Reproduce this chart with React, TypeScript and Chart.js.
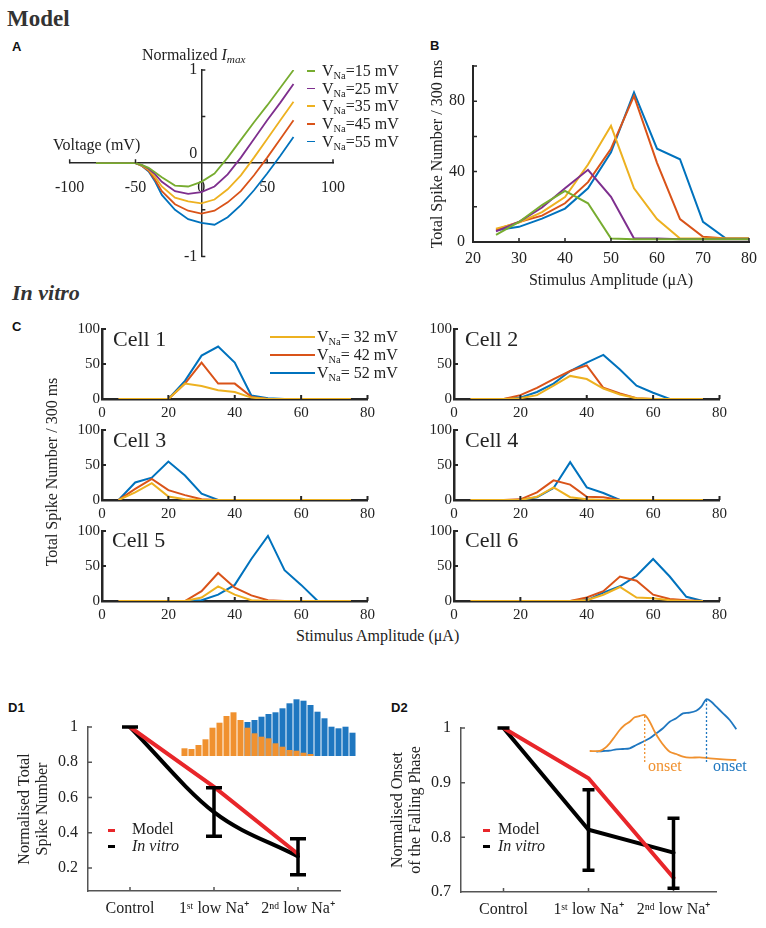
import React, { useEffect, useRef } from 'react';
import { Chart, registerables } from 'chart.js';

Chart.register(...registerables);

const SERIF = '"Liberation Serif", "Times New Roman", Times, serif';
const SANS = '"Liberation Sans", Arial, Helvetica, sans-serif';
const INK = '#222222';
const AXIS = '#262626';
Chart.defaults.font.family = SERIF;
Chart.defaults.font.size = 16;
Chart.defaults.color = INK;

const C_GREEN = '#77ac30';
const C_PURPLE = '#7e2f8e';
const C_YELLOW = '#edb120';
const C_RED = '#d95319';
const C_BLUE = '#0072bd';

// ---------------- Panel A (model I-V curves)
const naLevelsA = [15, 25, 35, 45, 55];
const voltageA = [-80, -50, -45, -40, -35, -30, -20, -10, 0, 10, 20, 30, 40, 50, 60, 70];
const imaxNa15 = [0, 0, -0.02, -0.05, -0.1, -0.15, -0.24, -0.25, -0.2, -0.11, 0.06, 0.25, 0.44, 0.62, 0.81, 1.0];
const imaxNa25 = [0, 0, -0.02, -0.06, -0.12, -0.2, -0.3, -0.33, -0.31, -0.25, -0.12, 0.06, 0.26, 0.46, 0.65, 0.85];
const imaxNa35 = [0, 0, -0.025, -0.07, -0.15, -0.25, -0.37, -0.41, -0.43, -0.39, -0.28, -0.13, 0.06, 0.26, 0.46, 0.66];
const imaxNa45 = [0, 0, -0.03, -0.08, -0.18, -0.3, -0.44, -0.51, -0.54, -0.51, -0.42, -0.3, -0.13, 0.06, 0.26, 0.46];
const imaxNa55 = [0, 0, -0.03, -0.09, -0.2, -0.34, -0.5, -0.6, -0.64, -0.66, -0.58, -0.45, -0.29, -0.11, 0.08, 0.28];

// ---------------- Panel B (model spikes vs stimulus)
const stimulusB = [25, 30, 35, 40, 45, 50, 55, 60, 65, 70, 75, 80];
const spikesNa15 = [4, 11.4, 21, 29, 22, 2, 1.5, 1.5, 1.5, 1.5, 1.5, 1.5];
const spikesNa25 = [6, 11.4, 19.6, 30.5, 41, 25.7, 2, 2, 1.5, 1.5, 1.5, 1.5];
const spikesNa35 = [7.6, 11, 17, 25.5, 44, 66, 30.5, 13, 2, 2, 2, 2];
const spikesNa45 = [7, 11.4, 15, 22, 34, 53, 83, 45, 13, 3, 2, 2];
const spikesNa55 = [6.7, 8.6, 13.3, 19, 30.5, 51, 85, 53, 47, 11.4, 2, 2];

// ---------------- Panel C (in vitro cells)
const naLevelsC = [32, 42, 52];
const stimulusC = [5, 10, 15, 20, 25, 30, 35, 40, 45, 50, 55, 60, 65, 70, 75];
const cell1Na32 = [0, 0, 0, 0, 22, 18.5, 12.5, 10, 2, 0, 0, 0, 0, 0, 0];
const cell1Na42 = [0, 0, 0, 0, 22, 52, 22, 22, 3, 0, 0, 0, 0, 0, 0];
const cell1Na52 = [0, 0, 0, 0, 26, 62, 75, 52, 5, 1, 0, 0, 0, 0, 0];
const cell2Na32 = [0, 0, 0, 1, 5.5, 19, 33, 28.5, 15, 6.5, 1, 0, 0, 0, 0];
const cell2Na42 = [0, 0, 0, 5.5, 16, 28.5, 40, 48, 16, 8, 1, 0, 0, 0, 0];
const cell2Na52 = [0, 0, 0, 2, 10, 22, 40, 52, 63, 42, 19, 9, 0, 0, 0];
const cell3Na32 = [0, 11, 24, 5, 1, 0, 0, 0, 0, 0, 0, 0, 0, 0, 0];
const cell3Na42 = [0, 16, 30, 14, 7, 1, 0, 0, 0, 0, 0, 0, 0, 0, 0];
const cell3Na52 = [0, 25, 32, 55, 35, 9, 0, 0, 0, 0, 0, 0, 0, 0, 0];
const cell4Na32 = [0, 0, 0, 0, 4.5, 18, 4, 1, 0, 0, 0, 0, 0, 0, 0];
const cell4Na42 = [0, 0, 0, 1, 11, 28, 22, 4.5, 4, 0, 0, 0, 0, 0, 0];
const cell4Na52 = [0, 0, 0, 0, 4, 17, 54, 18, 10, 0, 0, 0, 0, 0, 0];
const cell5Na32 = [0, 0, 0, 0, 0, 5, 21, 9, 1, 0, 0, 0, 0, 0, 0];
const cell5Na42 = [0, 0, 0, 0, 0, 14, 40, 19, 8, 1, 0, 0, 0, 0, 0];
const cell5Na52 = [0, 0, 0, 0, 0, 1, 9, 23, 60, 93, 44, 23, 0, 0, 0];
const cell6Na32 = [0, 0, 0, 0, 0, 0, 0, 1, 9, 20, 5, 4, 1, 0, 0];
const cell6Na42 = [0, 0, 0, 0, 0, 0, 0, 5, 14, 35, 29, 9, 3, 1, 0];
const cell6Na52 = [0, 0, 0, 0, 0, 0, 0, 1, 12, 21, 36, 60, 35, 6, 0];

// ---------------- Panel D
const conditionLabels = ['Control', '1ˢᵗ low Na⁺', '2ⁿᵈ low Na⁺'];
const d1Model = [1, 0.66, 0.28];
const d1InVitro = [1, 0.517, 0.266];
const d1ErrLow = [1, 0.38, 0.162];
const d1ErrHigh = [1, 0.655, 0.367];
const d1Ticks = [0.2, 0.4, 0.6, 0.8, 1];
const d2Model = [1, 0.908, 0.726];
const d2InVitro = [1, 0.814, 0.772];
const d2ErrLow = [1, 0.74, 0.707];
const d2ErrHigh = [1, 0.887, 0.835];
const d2Ticks = [0.7, 0.8, 0.9, 1];

// D1 inset histogram
const histBins = [1, 2, 3, 4, 5, 6, 7, 8, 9, 10, 11, 12, 13, 14, 15, 16, 17, 18, 19, 20, 21, 22, 23, 24, 25];
const histOrange = [7.7, 7, 11, 16.7, 28.3, 33.3, 40, 43.7, 36, 28.3, 22.7, 19.3, 17.7, 12.7, 9.3, 6, 5.3, 3.3, 2, 0, 0, 0, 0, 0, 0];
const histBlue = [0, 0, 0, 0, 0, 0, 0, 0, 0, 34, 36, 39.3, 42, 43.7, 47.7, 52.7, 56.7, 55.3, 51, 44.3, 37.7, 29.3, 27.7, 29.3, 23.3];

// D2 inset traces
const traceOrangeX = [0.7, 10.7, 15.7, 20.7, 25.7, 30.7, 35.7, 40.7, 45.7, 50.7, 55.7, 60.7, 65.7, 70.7, 75.7, 80.7, 87.3, 94, 100.7, 110.7, 120.7, 134, 147.3];
const traceOrangeY = [9, 9, 11.7, 16.7, 23.3, 30, 35, 38.3, 42.7, 44, 45, 38.3, 28.3, 20, 13.3, 8.3, 6, 3.3, 2.3, 2.7, 1.7, 0.7, 0];
const traceBlueX = [7.3, 14, 20.7, 27.3, 34, 40.7, 47.3, 54, 60.7, 67.3, 74, 80.7, 87.3, 94, 100.7, 107.3, 112.3, 117.3, 122.3, 127.3, 134, 140.7, 147.3];
const traceBlueY = [8.3, 9, 9.3, 10.7, 11, 11.7, 15, 18.3, 21.7, 26.7, 31.7, 38.3, 41.7, 46.7, 47.3, 49.3, 53.3, 60.7, 58.3, 53.3, 46.7, 40, 30.7];
const onsetOrangeX = [55.7, 55.7];
const onsetOrangeY = [-2, 44];
const onsetBlueX = [117.5, 117.5];
const onsetBlueY = [-2, 60];

const INSET_ORANGE = '#f0912f';
const INSET_BLUE = '#1f77c0';
const D_RED = '#e8262a';

const pts = (xs: number[], ys: number[]) => xs.map((x, i) => ({ x, y: ys[i] }));

function inwardTicks(o: { len?: number; width?: number; color?: string; xAxisAtY?: number; yAxisAtX?: number }) {
  return {
    id: 'inwardTicks',
    afterDatasetsDraw(chart: any) {
      const { ctx, chartArea } = chart;
      const xs = chart.scales.x;
      const ys = chart.scales.y;
      const len = o.len ?? 4;
      const yPix = o.xAxisAtY != null ? ys.getPixelForValue(o.xAxisAtY) : chartArea.bottom;
      const xPix = o.yAxisAtX != null ? xs.getPixelForValue(o.yAxisAtX) : chartArea.left;
      ctx.save();
      ctx.strokeStyle = o.color ?? AXIS;
      ctx.lineWidth = o.width ?? 1.5;
      ctx.beginPath();
      xs.ticks.forEach((_t: any, i: number) => {
        const p = xs.getPixelForTick(i);
        if (Math.abs(p - xPix) < 2) return;
        ctx.moveTo(p, yPix);
        ctx.lineTo(p, yPix - len);
      });
      ys.ticks.forEach((_t: any, i: number) => {
        const p = ys.getPixelForTick(i);
        if (Math.abs(p - yPix) < 2) return;
        ctx.moveTo(xPix, p);
        ctx.lineTo(xPix + len, p);
      });
      ctx.stroke();
      ctx.restore();
    },
  };
}

function errorBars(lo: number[], hi: number[], cap: number) {
  return {
    id: 'errorBars',
    afterDatasetsDraw(chart: any) {
      const { ctx } = chart;
      const xs = chart.scales.x;
      const ys = chart.scales.y;
      ctx.save();
      ctx.strokeStyle = '#000';
      ctx.lineWidth = 3.5;
      lo.forEach((l, i) => {
        const x = xs.getPixelForValue(i);
        const y1 = ys.getPixelForValue(l);
        const y2 = ys.getPixelForValue(hi[i]);
        ctx.beginPath();
        ctx.moveTo(x, y1);
        ctx.lineTo(x, y2);
        ctx.moveTo(x - cap, y1);
        ctx.lineTo(x + cap, y1);
        ctx.moveTo(x - cap, y2);
        ctx.lineTo(x + cap, y2);
        ctx.stroke();
      });
      ctx.restore();
    },
  };
}

const noGrid = { display: false, drawTicks: false };
const basePlugins = { legend: { display: false }, tooltip: { enabled: false } };

const labelA = (v: number) => {
  if (v === 0) return ['0 ', ''];
  return Number.isInteger(v) ? String(v) + ' ' : '';
};

const configA = () => ({
  type: 'line',
  data: {
    datasets: [
      { data: pts(voltageA, imaxNa15), borderColor: C_GREEN },
      { data: pts(voltageA, imaxNa25), borderColor: C_PURPLE },
      { data: pts(voltageA, imaxNa35), borderColor: C_YELLOW },
      { data: pts(voltageA, imaxNa45), borderColor: C_RED },
      { data: pts(voltageA, imaxNa55), borderColor: C_BLUE },
    ],
  },
  options: {
    responsive: false,
    animation: false,
    events: [],
    layout: { padding: { left: 21, right: 20, top: 15, bottom: 11 } },
    plugins: basePlugins,
    elements: { point: { radius: 0 }, line: { borderWidth: 1.8, tension: 0 } },
    scales: {
      x: {
        type: 'linear', min: -100, max: 100, position: { y: 0 },
        grid: noGrid, border: { color: AXIS, width: 1.5 },
        ticks: { stepSize: 50, padding: 15, font: { size: 16 } },
      },
      y: {
        type: 'linear', min: -1, max: 1, position: { x: 0 },
        grid: noGrid, border: { color: AXIS, width: 1.5 },
        ticks: { stepSize: 0.5, padding: 4, font: { size: 16 }, callback: labelA },
      },
    },
  },
  plugins: [inwardTicks({ xAxisAtY: 0, yAxisAtX: 0, len: 4 })],
});

const configB = () => ({
  type: 'line',
  data: {
    datasets: [
      { data: pts(stimulusB, spikesNa15), borderColor: C_GREEN },
      { data: pts(stimulusB, spikesNa25), borderColor: C_PURPLE },
      { data: pts(stimulusB, spikesNa35), borderColor: C_YELLOW },
      { data: pts(stimulusB, spikesNa45), borderColor: C_RED },
      { data: pts(stimulusB, spikesNa55), borderColor: C_BLUE },
    ],
  },
  options: {
    responsive: false,
    animation: false,
    events: [],
    layout: { padding: { left: 0, right: 17, top: 26, bottom: 0 } },
    plugins: basePlugins,
    elements: { point: { radius: 0 }, line: { borderWidth: 2, tension: 0 } },
    scales: {
      x: {
        type: 'linear', min: 20, max: 80,
        grid: noGrid, border: { color: AXIS, width: 2 },
        ticks: { stepSize: 10, padding: 7 },
        title: { display: true, text: 'Stimulus Amplitude (μA)', font: { size: 16 }, padding: { top: 0, bottom: 10 } },
        afterFit: (s: any) => { s.height = 58; },
      },
      y: {
        type: 'linear', min: 0, max: 100,
        grid: noGrid, border: { color: AXIS, width: 2 },
        ticks: { stepSize: 20, padding: 8, callback: (v: number) => (v % 40 === 0 ? String(v) : '') },
        title: { display: true, text: 'Total Spike Number / 300 ms', font: { size: 16 }, padding: { top: 28, bottom: 0 } },
        afterFit: (s: any) => { s.width = 73; },
      },
    },
  },
  plugins: [inwardTicks({ len: 4, width: 1.5 })],
});

function cellConfig(na32: number[], na42: number[], na52: number[]) {
  return () => ({
    type: 'line',
    data: {
      datasets: [
        { data: pts(stimulusC, na32), borderColor: C_YELLOW },
        { data: pts(stimulusC, na42), borderColor: C_RED },
        { data: pts(stimulusC, na52), borderColor: C_BLUE },
      ],
    },
    options: {
      responsive: false,
      animation: false,
      events: [],
      layout: { padding: { left: 0, right: 12, top: 9, bottom: 0 } },
      plugins: basePlugins,
      elements: { point: { radius: 0 }, line: { borderWidth: 2, tension: 0 } },
      scales: {
        x: {
          type: 'linear', min: 0, max: 80,
          grid: noGrid, border: { color: AXIS, width: 2.5 },
          ticks: { stepSize: 20, padding: 5, font: { size: 15 } },
          afterFit: (s: any) => { s.height = 23; },
        },
        y: {
          type: 'linear', min: 0, max: 100,
          grid: noGrid, border: { color: AXIS, width: 2.5 },
          ticks: { stepSize: 50, padding: 2, font: { size: 15 } },
          afterFit: (s: any) => { s.width = 42; },
        },
      },
    },
    plugins: [inwardTicks({ len: 4, width: 2 })],
  });
}

function dConfig(model: number[], vitro: number[], lo: number[], hi: number[], ticksArr: number[], min: number, max: number,
  title: string[], titlePad: number, yWidth: number, xHeight: number, padTop: number, padRight: number, curved: boolean, cap: number) {
  return () => ({
    type: 'line',
    data: {
      labels: conditionLabels,
      datasets: [
        { data: model, borderColor: D_RED, borderWidth: 4 },
        { data: vitro, borderColor: '#000', borderWidth: 4, cubicInterpolationMode: curved ? 'monotone' : 'default' },
      ],
    },
    options: {
      responsive: false,
      animation: false,
      events: [],
      layout: { padding: { left: 0, right: padRight, top: padTop, bottom: 0 } },
      plugins: basePlugins,
      elements: { point: { radius: 0 }, line: { tension: 0, borderCapStyle: 'round' } },
      scales: {
        x: {
          type: 'category', offset: true,
          grid: noGrid, border: { color: '#555', width: 1.5 },
          ticks: { padding: 8, font: { size: 16 } },
          afterFit: (s: any) => { s.height = xHeight; },
        },
        y: {
          type: 'linear', min, max,
          grid: noGrid, border: { color: '#555', width: 1.5 },
          afterBuildTicks: (s: any) => { s.ticks = ticksArr.map((v) => ({ value: v })); },
          ticks: { padding: 10, font: { size: 16 }, callback: (v: number) => (v === 1 ? '1' : Number(v).toFixed(1)) },
          title: { display: true, text: title, font: { size: 16, lineHeight: 1.125 }, padding: { top: titlePad, bottom: 0 } },
          afterFit: (s: any) => { s.width = yWidth; },
        },
      },
    },
    plugins: [inwardTicks({ len: 4, width: 1.5, color: '#555' }), errorBars(lo, hi, cap)],
  });
}

const configD1 = dConfig(d1Model, d1InVitro, d1ErrLow, d1ErrHigh, d1Ticks, 0.07, 1.0,
  ['Normalised Total', 'Spike Number'], 16, 88, 37, 37, 43, true, 8);
const configD2 = dConfig(d2Model, d2InVitro, d2ErrLow, d2ErrHigh, d2Ticks, 0.7, 1.0,
  ['Normalised Onset', 'of the Falling Phase'], 6, 78, 36, 38, 50, false, 6);

const configInsetHist = () => ({
  type: 'bar',
  data: {
    labels: histBins,
    datasets: [
      { data: histOrange, backgroundColor: INSET_ORANGE, grouped: false, barPercentage: 0.86, categoryPercentage: 1 },
      { data: histBlue, backgroundColor: INSET_BLUE, grouped: false, barPercentage: 0.86, categoryPercentage: 1 },
    ],
  },
  options: {
    responsive: false,
    animation: false,
    events: [],
    layout: { padding: 0 },
    plugins: basePlugins,
    scales: {
      x: { display: false },
      y: { display: false, min: 0, max: 66 },
    },
  },
});

const configInsetTrace = () => ({
  type: 'line',
  data: {
    datasets: [
      { data: pts(onsetOrangeX, onsetOrangeY), borderColor: INSET_ORANGE, borderWidth: 1.3, borderDash: [2, 2] },
      { data: pts(onsetBlueX, onsetBlueY), borderColor: INSET_BLUE, borderWidth: 1.3, borderDash: [2, 2] },
      { data: pts(traceOrangeX, traceOrangeY), borderColor: INSET_ORANGE, borderWidth: 1.8 },
      { data: pts(traceBlueX, traceBlueY), borderColor: INSET_BLUE, borderWidth: 1.8 },
    ],
  },
  options: {
    responsive: false,
    animation: false,
    events: [],
    layout: { padding: 0 },
    plugins: basePlugins,
    elements: { point: { radius: 0 }, line: { tension: 0.3 } },
    scales: {
      x: { type: 'linear', display: false, min: 0, max: 152 },
      y: { type: 'linear', display: false, min: -10, max: 65 },
    },
  },
});

function ChartCanvas({ x, y, w, h, make }: { x: number; y: number; w: number; h: number; make: () => any }) {
  const ref = useRef<HTMLCanvasElement | null>(null);
  useEffect(() => {
    if (!ref.current) return;
    const chart = new Chart(ref.current, make());
    return () => chart.destroy();
  }, []);
  return <canvas ref={ref} width={w} height={h} style={{ position: 'absolute', left: x, top: y, width: w, height: h }} />;
}

function T({ x, y, size = 16, children, style }: { x: number; y: number; size?: number; children: any; style?: any }) {
  return (
    <div style={{ position: 'absolute', left: x, top: y - size / 2, fontSize: size, lineHeight: 1, fontFamily: SERIF, whiteSpace: 'nowrap', color: INK, ...style }}>
      {children}
    </div>
  );
}

function PanelLabel({ x, y, text }: { x: number; y: number; text: string }) {
  return <T x={x} y={y} size={13} style={{ fontFamily: SANS, fontWeight: 700, color: '#111' }}>{text}</T>;
}

function Swatch({ x, y, w, h, color }: { x: number; y: number; w: number; h: number; color: string }) {
  return <div style={{ position: 'absolute', left: x, top: y - h / 2, width: w, height: h, background: color }} />;
}

const subNa = <span style={{ fontSize: '0.65em', verticalAlign: '-0.25em' }}>Na</span>;

function Rotated({ cx, cy, width, children, size = 16 }: { cx: number; cy: number; width: number; children: any; size?: number }) {
  return (
    <div style={{ position: 'absolute', left: cx - width / 2, top: cy - size / 2, width, textAlign: 'center', fontSize: size, lineHeight: 1, fontFamily: SERIF, color: INK, transform: 'rotate(-90deg)', transformOrigin: '50% 50%', whiteSpace: 'nowrap' }}>
      {children}
    </div>
  );
}

const legendAColors = [C_GREEN, C_PURPLE, C_YELLOW, C_RED, C_BLUE];
const legendAY = [71, 88.5, 106, 124, 141.5];
const legendCColors = [C_YELLOW, C_RED, C_BLUE];
const legendCY = [337, 355, 373];

export default function App() {
  return (
    <div style={{ position: 'absolute', left: 0, top: 0, width: 766, height: 928, background: '#fff', overflow: 'hidden', fontFamily: SERIF, color: INK }}>
      <T x={7} y={18} size={23} style={{ fontWeight: 700, color: '#333' }}>Model</T>
      <PanelLabel x={12} y={46} text="A" />
      <PanelLabel x={430} y={45} text="B" />

      <ChartCanvas x={40} y={55} w={320} h={215} make={configA} />
      <T x={142} y={55}>Normalized <i>I</i><span style={{ fontSize: '0.7em', fontStyle: 'italic', verticalAlign: '-0.3em' }}>max</span></T>
      <T x={53} y={145}>Voltage (mV)</T>
      {naLevelsA.map((v, i) => (
        <React.Fragment key={v}>
          <Swatch x={307} y={legendAY[i]} w={8} h={1.8} color={legendAColors[i]} />
          <T x={322} y={legendAY[i]}>V{subNa}={v} mV</T>
        </React.Fragment>
      ))}

      <ChartCanvas x={400} y={40} w={366} h={260} make={configB} />

      <T x={12} y={293} size={22} style={{ fontWeight: 700, fontStyle: 'italic', color: '#333' }}>In vitro</T>
      <PanelLabel x={12} y={326} text="C" />

      <ChartCanvas x={60} y={318} w={320} h={104} make={cellConfig(cell1Na32, cell1Na42, cell1Na52)} />
      <ChartCanvas x={412} y={318} w={320} h={104} make={cellConfig(cell2Na32, cell2Na42, cell2Na52)} />
      <ChartCanvas x={60} y={419} w={320} h={104} make={cellConfig(cell3Na32, cell3Na42, cell3Na52)} />
      <ChartCanvas x={412} y={419} w={320} h={104} make={cellConfig(cell4Na32, cell4Na42, cell4Na52)} />
      <ChartCanvas x={60} y={520} w={320} h={104} make={cellConfig(cell5Na32, cell5Na42, cell5Na52)} />
      <ChartCanvas x={412} y={520} w={320} h={104} make={cellConfig(cell6Na32, cell6Na42, cell6Na52)} />

      <T x={113} y={339} size={22}>Cell 1</T>
      <T x={465} y={339} size={22}>Cell 2</T>
      <T x={113} y={440} size={22}>Cell 3</T>
      <T x={465} y={440} size={22}>Cell 4</T>
      <T x={112} y={540} size={22}>Cell 5</T>
      <T x={465} y={540} size={22}>Cell 6</T>

      {naLevelsC.map((v, i) => (
        <React.Fragment key={v}>
          <Swatch x={270} y={legendCY[i]} w={45} h={2.5} color={legendCColors[i]} />
          <T x={317} y={legendCY[i]}>V{subNa}= {v} mV</T>
        </React.Fragment>
      ))}
      <Rotated cx={52} cy={472} width={260}>Total Spike Number / 300 ms</Rotated>
      <T x={296} y={636}>Stimulus Amplitude (μA)</T>

      <PanelLabel x={8} y={707} text="D1" />
      <PanelLabel x={391} y={707} text="D2" />

      <ChartCanvas x={0} y={690} w={383} h={238} make={configD1} />
      <ChartCanvas x={181} y={690} w={175} h={66} make={configInsetHist} />
      <Swatch x={108} y={830} w={7} h={3} color={D_RED} />
      <T x={132} y={829}>Model</T>
      <Swatch x={108} y={846} w={7} h={3} color="#000" />
      <T x={132} y={846}><i>In vitro</i></T>

      <ChartCanvas x={383} y={690} w={383} h={238} make={configD2} />
      <ChartCanvas x={589} y={695} w={152} h={75} make={configInsetTrace} />
      <T x={648} y={766} style={{ color: INSET_ORANGE }}>onset</T>
      <T x={713} y={766} style={{ color: INSET_BLUE }}>onset</T>
      <Swatch x={483} y={830} w={7} h={3} color={D_RED} />
      <T x={498} y={829}>Model</T>
      <Swatch x={483} y={846} w={7} h={3} color="#000" />
      <T x={498} y={846}><i>In vitro</i></T>
    </div>
  );
}
